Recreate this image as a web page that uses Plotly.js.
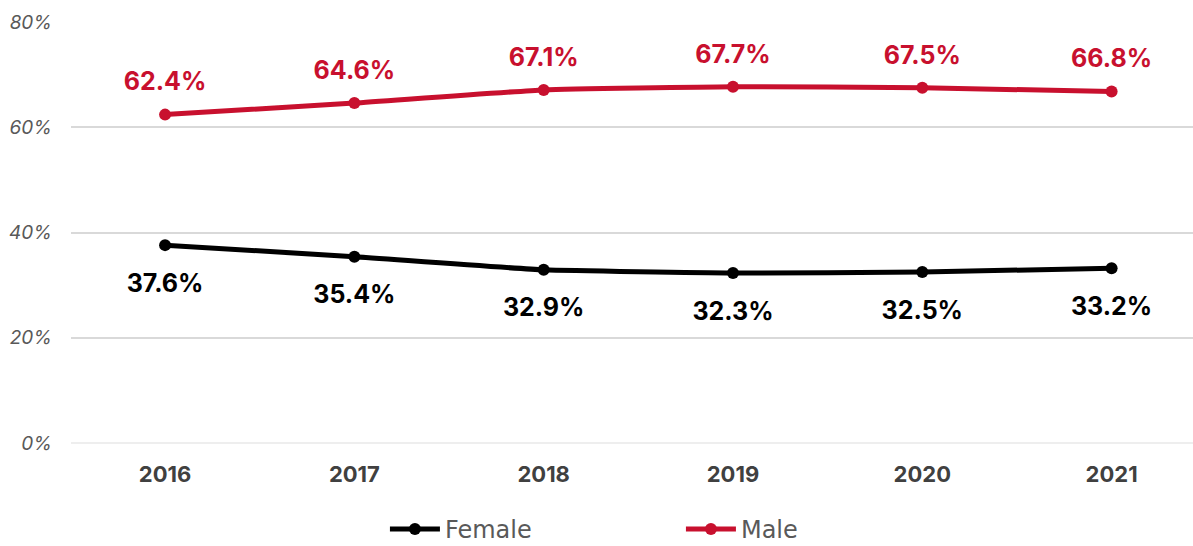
<!DOCTYPE html>
<html><head><meta charset="utf-8">
<script src="https://cdn.plot.ly/plotly-3.0.1.min.js"></script>
<style>html,body{margin:0;padding:0;background:#fff}#chart{width:1193px;height:546px}</style>
</head><body><div id="chart"></div>
<script>
const years = ['2016','2017','2018','2019','2020','2021'];
const female = [37.6, 35.4, 32.9, 32.3, 32.5, 33.2];
const male = [62.4, 64.6, 67.1, 67.7, 67.5, 66.8];
const yTicks = [0, 20, 40, 60, 80];

const RED = '#C8102E', BLACK = '#000000';
const FONT = 'Inter, "Open Sans", sans-serif';
const LABEL_SIZE = 25;

const traces = [
  {x: years, y: female, name: 'Female', type: 'scatter', mode: 'lines+markers',
   line: {color: BLACK, width: 5, shape: 'spline', smoothing: 0.4},
   marker: {color: BLACK, size: 12}, hoverinfo: 'skip'},
  {x: years, y: male, name: 'Male', type: 'scatter', mode: 'lines+markers',
   line: {color: RED, width: 5, shape: 'spline', smoothing: 0.4},
   marker: {color: RED, size: 12}, hoverinfo: 'skip'},
  // data labels (invisible markers used only to offset the text)
  {x: years, y: male, type: 'scatter', mode: 'markers+text', showlegend: false, hoverinfo: 'skip',
   marker: {size: 27, opacity: 0, color: RED}, texttemplate: '%{y:.1f}%', textposition: 'top center',
   cliponaxis: false, textfont: {family: FONT, size: LABEL_SIZE, color: RED, weight: 700}},
  {x: years, y: female, type: 'scatter', mode: 'markers+text', showlegend: false, hoverinfo: 'skip',
   marker: {size: 43, opacity: 0, color: BLACK}, texttemplate: '%{y:.1f}%', textposition: 'bottom center',
   cliponaxis: false, textfont: {family: FONT, size: LABEL_SIZE, color: BLACK, weight: 700}}
];

const layout = {
  width: 1193, height: 546,
  margin: {l: 71, r: 0, t: 22, b: 103, autoexpand: false},
  paper_bgcolor: '#fff', plot_bgcolor: '#fff',
  showlegend: true,
  legend: {orientation: 'h', x: 0.2798, xanchor: 'left', y: -0.205, yanchor: 'middle',
    font: {family: '"DejaVu Sans", sans-serif', size: 24, color: '#595959'}, entrywidth: 231, itemwidth: 50,
    bgcolor: 'rgba(0,0,0,0)'},
  xaxis: {type: 'category', range: [-0.497, 5.43], showgrid: false, zeroline: false,
    showline: false, ticks: '', ticklabelstandoff: 16,
    tickfont: {family: FONT, size: 22, color: '#404040', weight: 700}},
  yaxis: {range: [0, 80], tickvals: yTicks, ticktext: yTicks.map(v => v + '%'),
    showgrid: true, gridcolor: '#d9d9d9', gridwidth: 2, zeroline: true, zerolinecolor: '#eeeeee', zerolinewidth: 2,
    showline: false, ticks: '', ticklabelstandoff: 18,
    tickfont: {family: FONT, size: 19, color: '#595959', style: 'italic'}}
};

Plotly.newPlot('chart', traces, layout, {displayModeBar: false, responsive: false});
</script></body></html>
